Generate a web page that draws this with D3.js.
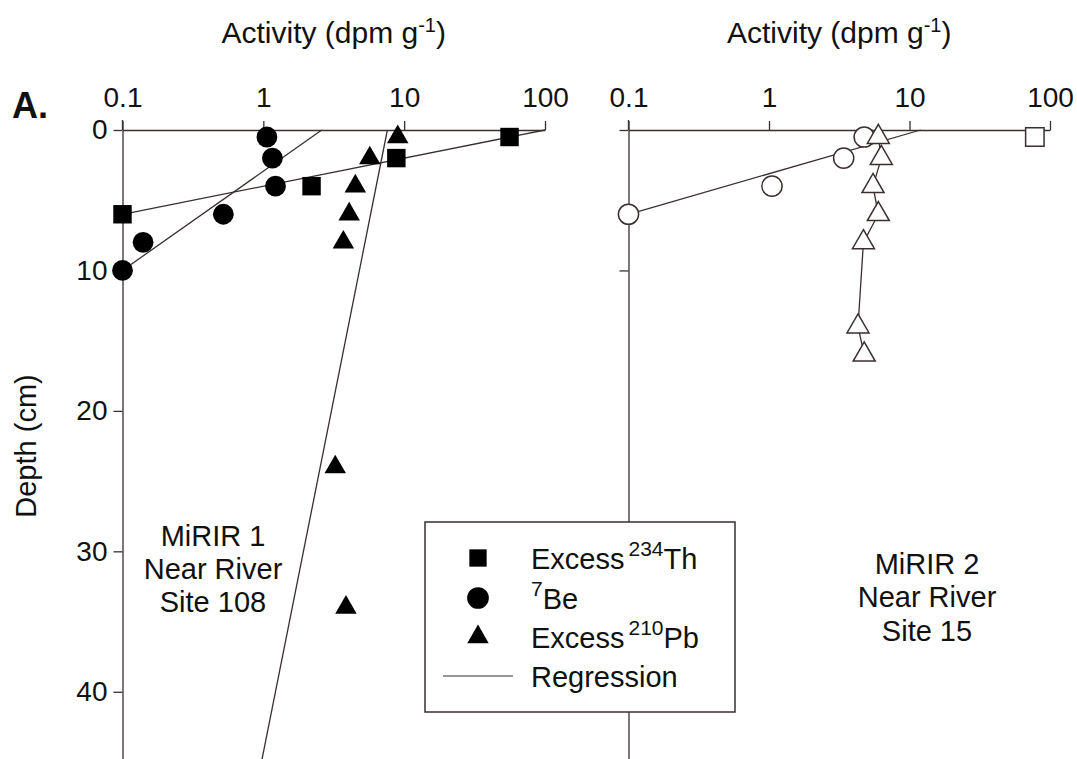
<!DOCTYPE html>
<html>
<head>
<meta charset="utf-8">
<script src="https://cdn.jsdelivr.net/npm/d3@7"></script>
<style>
  html, body { margin: 0; padding: 0; background: #fff; }
  svg { display: block; }
  text { font-family: "Liberation Sans", Arial, Helvetica, sans-serif; fill: #111; }
</style>
</head>
<body>
<svg id="chart" width="1077" height="759"></svg>
<script>
// ---- data ----
const activityTicks = [0.1, 1, 10, 100];
const activityTickLabels = ["0.1", "1", "10", "100"];
const depthTicks = [0, 10, 20, 30, 40];
const depthTickLabels = ["0", "10", "20", "30", "40"];

// Site 108 (MiRIR 1) - filled symbols
const site108Th = [{a: 56, d: 0.5}, {a: 8.8, d: 2}, {a: 2.2, d: 4}, {a: 0.1, d: 6}];
const site108Be = [{a: 1.06, d: 0.5}, {a: 1.16, d: 2}, {a: 1.22, d: 4}, {a: 0.52, d: 6}, {a: 0.14, d: 8}, {a: 0.1, d: 10}];
const site108Pb = [{a: 9.0, d: 0.5}, {a: 5.7, d: 2}, {a: 4.5, d: 4}, {a: 4.07, d: 6}, {a: 3.7, d: 8}, {a: 3.24, d: 24}, {a: 3.86, d: 34}];
const site108ThFit = [{a: 0.1, d: 6}, {a: 100, d: 0}];
const site108BeFit = [{a: 0.1, d: 10}, {a: 2.6, d: 0}];
const site108PbFit = [{a: 7.6, d: 0}, {a: 0.97, d: 45}];

// Site 15 (MiRIR 2) - open symbols
const site15Th = [{a: 78, d: 0.5}];
const site15Be = [{a: 4.76, d: 0.5}, {a: 3.4, d: 2}, {a: 1.05, d: 4}, {a: 0.1, d: 6}];
const site15Pb = [{a: 6.0, d: 0.5}, {a: 6.3, d: 2}, {a: 5.5, d: 4}, {a: 6.0, d: 6}, {a: 4.7, d: 8}, {a: 4.3, d: 14}, {a: 4.76, d: 16}];
const site15BeFit = [{a: 0.1, d: 6}, {a: 12, d: 0}];

const legendLabels = [
  {pre: "Excess", sup: "234", post: "Th", sym: "square"},
  {pre: "", sup: "7", post: "Be", sym: "circle"},
  {pre: "Excess", sup: "210", post: "Pb", sym: "triangle"},
  {pre: "Regression", sup: "", post: "", sym: "line"}
];

// ---- layout ----
const svg = d3.select("#chart");
const INK = "#3a2f2f";
const y = d3.scaleLinear().domain([0, 45]).range([130, 762]);
const xL = d3.scaleLog().domain([0.1, 100]).range([122.5, 545]);
const xR = d3.scaleLog().domain([0.1, 100]).range([628.5, 1050]);

const symFor = {
  square: d3.symbol().type(d3.symbolSquare).size(340),
  circle: d3.symbol().type(d3.symbolCircle).size(340),
  triangle: d3.symbol().type(d3.symbolTriangle).size(200)
};
const symOpen = {
  square: d3.symbol().type(d3.symbolSquare).size(340),
  circle: d3.symbol().type(d3.symbolCircle).size(320),
  triangle: d3.symbol().type(d3.symbolTriangle).size(210)
};

function styleAxis(g) {
  g.selectAll("path, line").attr("stroke", INK).attr("stroke-width", 1.3);
  g.selectAll("text").attr("font-size", 28).attr("fill", "#111")
    .style("font-family", '"Liberation Sans", Arial, sans-serif');
}

// ---- panels ----
function panel(x, showDepthLabels) {
  const gTop = svg.append("g").attr("transform", `translate(0,${y(0)})`)
    .call(d3.axisTop(x).tickValues(activityTicks)
      .tickFormat((d, i) => activityTickLabels[i]).tickSize(9).tickSizeOuter(0).tickPadding(14));
  styleAxis(gTop);
  const yAxis = d3.axisLeft(y).tickSize(9).tickSizeOuter(0).tickPadding(6);
  if (showDepthLabels) {
    yAxis.tickValues(depthTicks).tickFormat((d, i) => depthTickLabels[i]);
  } else {
    yAxis.tickValues([0, 10]).tickFormat("");
  }
  const gLeft = svg.append("g").attr("transform", `translate(${x(0.1)},0)`).call(yAxis);
  styleAxis(gLeft);
  // extend vertical axis slightly above the top axis
  svg.append("line").attr("x1", x(0.1)).attr("x2", x(0.1)).attr("y1", y(0) - 10).attr("y2", y(0))
    .attr("stroke", INK).attr("stroke-width", 1.3);
  // axis title
  const t = svg.append("text").attr("x", (x(0.1) + x(100)) / 2 + 0).attr("y", 43)
    .attr("text-anchor", "middle").attr("font-size", 30);
  t.append("tspan").text("Activity (dpm g");
  t.append("tspan").attr("dy", -11).attr("font-size", 20).text("-1");
  t.append("tspan").attr("dy", 11).text(")");
}
panel(xL, true);
panel(xR, false);

const line = x => d3.line().x(d => x(d.a)).y(d => y(d.d));

// Left panel regressions
[site108ThFit, site108BeFit, site108PbFit].forEach(fit => {
  svg.append("path").datum(fit).attr("d", line(xL)).attr("fill", "none")
    .attr("stroke", INK).attr("stroke-width", 1.3);
});
// markers
function marks(data, x, sym, open) {
  svg.append("g").selectAll("path").data(data).join("path")
    .attr("transform", d => `translate(${x(d.a)},${y(d.d)})`)
    .attr("d", open ? symOpen[sym]() : symFor[sym]())
    .attr("fill", open ? "#fff" : "#000")
    .attr("stroke", open ? INK : "none")
    .attr("stroke-width", 1.5);
}
marks(site108Th, xL, "square", false);
marks(site108Be, xL, "circle", false);
marks(site108Pb, xL, "triangle", false);

// Right panel lines
svg.append("path").datum(site15BeFit).attr("d", line(xR)).attr("fill", "none")
  .attr("stroke", INK).attr("stroke-width", 1.3);
svg.append("path").datum(site15Pb).attr("d", line(xR)).attr("fill", "none")
  .attr("stroke", INK).attr("stroke-width", 1.3);
marks(site15Be, xR, "circle", true);
marks(site15Pb, xR, "triangle", true);
marks(site15Th, xR, "square", true);

// "A." label
svg.append("text").attr("x", 12).attr("y", 118).attr("font-size", 36).attr("font-weight", "bold").text("A.");

// Depth title
svg.append("text").attr("transform", "translate(36,446) rotate(-90)")
  .attr("text-anchor", "middle").attr("font-size", 29).text("Depth (cm)");

// Site annotations
function annot(cx, ys, lines) {
  lines.forEach((s, i) => {
    svg.append("text").attr("x", cx).attr("y", ys[i]).attr("text-anchor", "middle")
      .attr("font-size", 29).text(s);
  });
}
annot(213, [546, 579, 612], ["MiRIR 1", "Near River", "Site 108"]);
annot(927, [574, 607, 641], ["MiRIR 2", "Near River", "Site 15"]);

// Legend
svg.append("rect").attr("x", 425).attr("y", 522).attr("width", 310).attr("height", 190)
  .attr("fill", "#fff").attr("stroke", INK).attr("stroke-width", 1.5);
const rowY = [558, 598, 637, 676];
legendLabels.forEach((L, i) => {
  const cy = rowY[i];
  if (L.sym === "line") {
    svg.append("line").attr("x1", 443).attr("x2", 513).attr("y1", cy).attr("y2", cy)
      .attr("stroke", INK).attr("stroke-width", 1.2);
  } else {
    const s = L.sym === "square" ? d3.symbol().type(d3.symbolSquare).size(300)
      : L.sym === "circle" ? d3.symbol().type(d3.symbolCircle).size(370)
      : d3.symbol().type(d3.symbolTriangle).size(200);
    svg.append("path").attr("transform", `translate(478,${cy})`).attr("d", s()).attr("fill", "#000");
  }
  const t = svg.append("text").attr("x", 531).attr("y", cy + 11).attr("font-size", 29);
  if (L.pre) t.append("tspan").text(L.pre);
  if (L.sup) {
    t.append("tspan").attr("dx", L.pre ? 4 : 0).attr("dy", -13).attr("font-size", 21).text(L.sup);
    t.append("tspan").attr("dy", 13).text(L.post);
  }
});
</script>
</body>
</html>
